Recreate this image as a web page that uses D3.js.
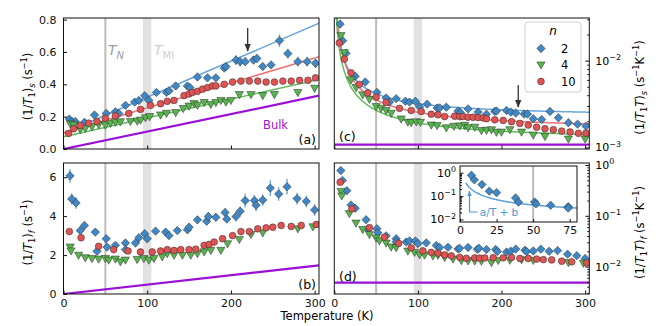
<!DOCTYPE html>
<html><head><meta charset="utf-8">
<script src="https://cdn.jsdelivr.net/npm/d3@7"></script>
<style>body{margin:0;background:#fff} svg{display:block}</style>
</head><body>
<script>
// ---------------- DATA ----------------
// slow component (1/T1)_s  [s^-1], panel (a)
const blueA_T = [7,10,14,25,37,51,62,66,74,85,90,97,102,111,123,126,134,148,151,160,172,182,192,194,206,211,217,227,231,238,248,258,268,280,291,301];
const blueA_v = [0.185,0.17,0.17,0.165,0.21,0.22,0.23,0.22,0.27,0.29,0.30,0.33,0.30,0.35,0.35,0.36,0.39,0.39,0.38,0.445,0.44,0.44,0.50,0.51,0.55,0.54,0.54,0.55,0.56,0.51,0.52,0.67,0.59,0.54,0.54,0.53];
const blueA_e = [0.02,0.02,0.02,0.015,0.015,0.015,0.015,0.015,0.02,0.015,0.015,0.02,0.02,0.015,0.015,0.02,0.02,0.02,0.02,0.02,0.02,0.02,0.02,0.02,0.03,0.03,0.025,0.025,0.025,0.02,0.02,0.04,0.03,0.03,0.03,0.03];
const redA_T = [6,12,20,30,40,50,62,78,92,104,116,124,132,144,150,154,160,166,172,178,182,192,202,212,222,232,242,252,262,272,282,292,301];
const redA_v = [0.096,0.125,0.145,0.16,0.17,0.19,0.205,0.22,0.245,0.27,0.28,0.295,0.30,0.33,0.34,0.35,0.357,0.37,0.38,0.39,0.39,0.40,0.414,0.42,0.42,0.42,0.414,0.414,0.42,0.42,0.425,0.425,0.44];
const greenA_T = [8,12,20,26,34,42,50,56,62,68,80,88,92,98,103,116,123,134,143,150,156,160,168,176,182,188,194,200,210,224,238,252,280,300];
const greenA_v = [0.155,0.148,0.12,0.127,0.137,0.15,0.148,0.158,0.165,0.168,0.17,0.172,0.178,0.193,0.2,0.21,0.22,0.225,0.25,0.265,0.28,0.27,0.287,0.275,0.287,0.30,0.29,0.30,0.336,0.336,0.33,0.336,0.349,0.375];
const redA_err = 0.008, greenA_err = 0.01;

// fast component (1/T1)_f [s^-1], panel (b)
const blueB_T = [7.8,9.8,15,20,25,38,40,51,52,62,74,74,86,90,97,100,110,122,126,136,148,150,160,171,173,182,193,195,206,211,217,228,230,238,247,257,267,279,290,300];
const blueB_v = [6.07,4.88,4.68,3.26,3.52,3.18,2.2,2.84,2.41,2.5,2.62,2.28,2.62,2.89,3.1,2.84,3.23,3.18,3.0,3.26,3.3,3.43,3.81,3.74,3.98,3.94,4.19,3.85,3.98,4.25,4.8,4.8,4.56,4.83,5.44,5.14,5.51,4.9,4.76,4.32];
const blueB_e = [0.35,0.3,0.3,0.2,0.2,0.15,0.15,0.15,0.15,0.15,0.15,0.15,0.15,0.15,0.2,0.2,0.15,0.15,0.15,0.15,0.2,0.2,0.2,0.2,0.25,0.2,0.2,0.2,0.25,0.25,0.35,0.3,0.3,0.3,0.4,0.35,0.4,0.3,0.3,0.3];
const redB_T = [7,21,42,60,77,92,106,116,124,132,140,150,158,168,174,180,190,202,212,222,232,242,250,260,272,284,302];
const redB_v = [3.21,2.89,2.45,2.28,2.21,2.16,2.16,2.21,2.28,2.24,2.28,2.28,2.3,2.5,2.55,2.67,2.84,3.0,3.21,3.21,3.35,3.4,3.43,3.52,3.47,3.52,3.57];
const greenB_T = [8,9,18,26,34,42,50,54,62,68,74,88,96,102,108,118,124,132,142,152,160,168,176,188,196,210,224,238,280,298];
const greenB_v = [2.41,2.21,1.99,1.86,1.82,1.79,1.82,1.74,1.79,1.65,1.74,1.77,1.82,1.74,1.82,1.91,2.07,1.99,1.99,1.99,2.07,2.16,2.24,2.24,2.58,2.8,3.05,3.14,3.35,3.45];
const redB_err = 0.08, greenB_err = 0.1;

// linear fits 1/T1 = a + b*T  (shown as a/T + b in panel c)
const fitNames = ['2','4','10'];
const fitA = [0.097, 0.076, 0.10];
const fitB = [0.00223, 0.00116, 0.00154];
// inset fit a/T + b for n = 2, fast component
const insetFitA = 1.43, insetFitB = 0.013;
// bulk relaxation rates (1/T1T) [s^-1 K^-1]
const bulkS = 0.00108, bulkF = 0.00482;
const T_N = 50, T_MI = [95, 105];
const arrowT = 220;

const legendLabels = ['2','4','10'];
const ticksA = [0,0.2,0.4,0.6,0.8];
const ticksB = [0,2,4,6];
const ticksX = [0,100,200,300];
const ticksInsetX = [0,25,50,75];

// ---------------- SETUP ----------------
const W=664,H=326;
const FONT='DejaVu Sans, sans-serif';
const svg=d3.select('body').append('svg').attr('width',W).attr('height',H).attr('font-family',FONT);

const P = {
  a:{x0:63.5,x1:319,y0:18,y1:149},
  b:{x0:63.5,x1:319,y0:163,y1:294},
  c:{x0:334.3,x1:589.3,y0:18,y1:149},
  d:{x0:334.3,x1:589.3,y0:163,y1:294},
  i:{x0:460,x1:577,y0:166,y1:222}
};
const xL = d3.scaleLinear().domain([0,305.2]).range([P.a.x0,P.a.x1]);
const xR = d3.scaleLinear().domain([0,305]).range([P.c.x0,P.c.x1]);
const ya = d3.scaleLinear().domain([0,0.81]).range([P.a.y1,P.a.y0]);
const yb = d3.scaleLinear().domain([0,6.73]).range([P.b.y1,P.b.y0]);
const yc = d3.scaleLog().domain([9.6e-4,3.1e-2]).range([P.c.y1,P.c.y0]);
const yd = d3.scaleLog().domain([Math.pow(10,-2.54),Math.pow(10,0.04)]).range([P.d.y1,P.d.y0]);
const xi = d3.scaleLinear().domain([0,80]).range([P.i.x0,P.i.x1]);
const yi = d3.scaleLog().domain([Math.pow(10,-2.11),Math.pow(10,0.29)]).range([P.i.y1,P.i.y0]);

const S = [
  {color:'#3f88c5', err:'#74aedf', fit:'#6aa6da', shape:'diamond'},
  {color:'#58b44f', err:'#8ad184', fit:'#62bd5c', shape:'tri'},
  {color:'#df5353', err:'#f08c8c', fit:'#ef7373', shape:'circle'}
];
const PURPLE = '#9b0fd6';

function markerPath(shape){
  if(shape==='diamond') return 'M0,-4.2L4.2,0L0,4.2L-4.2,0Z';
  if(shape==='tri') return 'M-4.1,-3.1L4.1,-3.1L0,4.1Z';
  return d3.symbol(d3.symbolCircle, 36)();
}

function richText(sel, parts, size){
  const t = sel.append('text').attr('font-size', size);
  let shift = 0;
  parts.forEach(p=>{
    const target = p.sub ? 0.28*size : (p.sup ? -0.42*size : 0);
    const ts = t.append('tspan').text(p.t);
    if(target!==shift){ ts.attr('dy', target-shift); shift=target; }
    if(p.sub||p.sup) ts.attr('font-size', size*0.72);
    if(p.it) ts.attr('font-style','italic');
  });
  return t;
}

const defs = svg.append('defs');
function clip(id, b){
  defs.append('clipPath').attr('id',id).append('rect')
    .attr('x',b.x0).attr('y',b.y0).attr('width',b.x1-b.x0).attr('height',b.y1-b.y0);
  return svg.append('g').attr('clip-path',`url(#${id})`);
}
defs.append('marker').attr('id','ah').attr('viewBox','0 0 10 10').attr('refX',9).attr('refY',5)
  .attr('markerWidth',6).attr('markerHeight',6).attr('orient','auto-start-reverse')
  .append('path').attr('d','M0,1L10,5L0,9Z').attr('fill','#333');
defs.append('marker').attr('id','ahb').attr('viewBox','0 0 10 10').attr('refX',9).attr('refY',5)
  .attr('markerWidth',5).attr('markerHeight',5).attr('orient','auto-start-reverse')
  .append('path').attr('d','M0,1L10,5L0,9Z').attr('fill','#4f95d0');

function transitions(g, xs, b){
  g.append('rect').attr('x',xs(T_MI[0])).attr('y',b.y0).attr('width',xs(T_MI[1])-xs(T_MI[0])).attr('height',b.y1-b.y0).attr('fill','#e2e2e2');
  g.append('line').attr('x1',xs(T_N)).attr('x2',xs(T_N)).attr('y1',b.y0).attr('y2',b.y1).attr('stroke','#bdbdbd').attr('stroke-width',2);
}

function drawSeries(g, xs, ys, sets){
  sets.forEach(s=>{
    const st = S[s.k];
    s.T.forEach((t,i)=>{
      const v=s.v[i], e=s.e[i];
      if(e>0) g.append('line').attr('x1',xs(t)).attr('x2',xs(t)).attr('y1',ys(v-e)).attr('y2',ys(v+e))
        .attr('stroke',st.err).attr('stroke-width',1.5);
    });
  });
  sets.forEach(s=>{
    const st = S[s.k];
    g.append('g').selectAll('path').data(s.T.map((t,i)=>[t,s.v[i]])).join('path')
      .attr('d',markerPath(st.shape))
      .attr('transform',d=>`translate(${xs(d[0])},${ys(d[1])})`)
      .attr('fill',st.color).attr('stroke','#2a2a2a').attr('stroke-width',0.5);
  });
}

function frame(b){
  svg.append('rect').attr('x',b.x0).attr('y',b.y0).attr('width',b.x1-b.x0).attr('height',b.y1-b.y0)
    .attr('fill','none').attr('stroke','#111').attr('stroke-width',1);
}
function styleAxis(g){ g.select('.domain').remove(); g.attr('font-family',FONT).attr('font-size',11);
  g.selectAll('line').attr('stroke','#111'); g.selectAll('text').attr('fill','#111'); }

const errs = (arr,e)=>arr.map(()=>e);

// ---------- series sets ----------
const setA = [
  {k:0,T:blueA_T,v:blueA_v,e:blueA_e},
  {k:1,T:greenA_T,v:greenA_v,e:errs(greenA_T,greenA_err)},
  {k:2,T:redA_T,v:redA_v,e:errs(redA_T,redA_err)}
];
const setB = [
  {k:0,T:blueB_T,v:blueB_v,e:blueB_e},
  {k:1,T:greenB_T,v:greenB_v,e:errs(greenB_T,greenB_err)},
  {k:2,T:redB_T,v:redB_v,e:errs(redB_T,redB_err)}
];
const perT = set => set.map(s=>({k:s.k,T:s.T,v:s.v.map((v,i)=>v/s.T[i]),e:s.e.map((e,i)=>e/s.T[i])}));
const setC = perT(setA), setD = perT(setB);

// ---------- Panel a ----------
{
  const g = clip('ca',P.a);
  transitions(g,xL,P.a);
  g.append('line').attr('x1',xL(0)).attr('x2',xL(305.2)).attr('y1',ya(0)).attr('y2',ya(bulkS*305.2))
    .attr('stroke',PURPLE).attr('stroke-width',2.2);
  [0,2,1].forEach(k=>{
    g.append('line').attr('x1',xL(0)).attr('x2',xL(305.2)).attr('y1',ya(fitA[k])).attr('y2',ya(fitA[k]+fitB[k]*305.2))
      .attr('stroke',S[k].fit).attr('stroke-width',1.5);
  });
  drawSeries(g,xL,ya,setA);
  frame(P.a);
  const ax = svg.append('g').attr('transform',`translate(${P.a.x0},0)`)
    .call(d3.axisLeft(ya).tickValues(ticksA).tickSize(-3.5).tickSizeOuter(0).tickPadding(7).tickFormat(d3.format('.1f')));
  styleAxis(ax);
  const bx = svg.append('g').attr('transform',`translate(0,${P.a.y1})`)
    .call(d3.axisBottom(xL).tickValues(ticksX).tickSize(-3.5).tickSizeOuter(0).tickFormat(''));
  styleAxis(bx);
  svg.append('text').attr('x',316).attr('y',144).attr('text-anchor','end').attr('font-size',12.5).text('(a)');
  svg.append('text').attr('x',263).attr('y',129).attr('font-size',11.5).attr('fill',PURPLE).text('Bulk');
  richText(svg,[{t:'T',it:true},{t:'N',sub:true,it:true}],14).attr('x',108).attr('y',55).attr('fill','#9d9d9d');
  richText(svg,[{t:'T',it:true},{t:'MI',sub:true}],14).attr('x',154).attr('y',55).attr('fill','#cfcfcf');
  svg.append('line').attr('x1',xL(arrowT)).attr('x2',xL(arrowT)).attr('y1',28).attr('y2',51)
    .attr('stroke','#333').attr('stroke-width',1.3).attr('marker-end','url(#ah)');
  richText(svg,[{t:'(1/'},{t:'T',it:true},{t:'1',sub:true},{t:')'},{t:'s',sub:true,it:true},{t:' (s'},{t:'−1',sup:true},{t:')'}],11.5)
    .attr('text-anchor','middle').attr('transform',`translate(32,${(P.a.y0+P.a.y1)/2+3}) rotate(-90)`);
}

// ---------- Panel b ----------
{
  const g = clip('cb',P.b);
  transitions(g,xL,P.b);
  g.append('line').attr('x1',xL(0)).attr('x2',xL(305.2)).attr('y1',yb(0)).attr('y2',yb(bulkF*305.2))
    .attr('stroke',PURPLE).attr('stroke-width',2.2);
  drawSeries(g,xL,yb,setB);
  frame(P.b);
  const ax = svg.append('g').attr('transform',`translate(${P.b.x0},0)`)
    .call(d3.axisLeft(yb).tickValues(ticksB).tickSize(-3.5).tickSizeOuter(0).tickPadding(7).tickFormat(d3.format('d')));
  styleAxis(ax);
  const bx = svg.append('g').attr('transform',`translate(0,${P.b.y1})`)
    .call(d3.axisBottom(xL).tickValues(ticksX).tickSize(-3.5).tickSizeOuter(0).tickPadding(5).tickFormat(d3.format('d')));
  styleAxis(bx);
  svg.append('text').attr('x',316).attr('y',289).attr('text-anchor','end').attr('font-size',12.5).text('(b)');
  richText(svg,[{t:'(1/'},{t:'T',it:true},{t:'1',sub:true},{t:')'},{t:'f',sub:true,it:true},{t:' (s'},{t:'−1',sup:true},{t:')'}],11.5)
    .attr('text-anchor','middle').attr('transform',`translate(32,${(P.b.y0+P.b.y1)/2+4}) rotate(-90)`);
}

// ---------- Panel c ----------
function logRightAxis(ys, b, majors, minors, labels){
  const ax = svg.append('g').attr('transform',`translate(${b.x1},0)`)
    .call(d3.axisRight(ys).tickValues(majors).tickSize(-4).tickSizeOuter(0).tickFormat(''));
  styleAxis(ax);
  const mx = svg.append('g').attr('transform',`translate(${b.x1},0)`)
    .call(d3.axisRight(ys).tickValues(minors).tickSize(-2).tickSizeOuter(0).tickFormat(''));
  styleAxis(mx);
  majors.forEach((m,i)=>{
    richText(svg,[{t:'10'},{t:labels[i],sup:true}],11).attr('x',b.x1+6).attr('y',ys(m)+4);
  });
}
{
  const g = clip('cc',P.c);
  transitions(g,xR,P.c);
  g.append('line').attr('x1',xR(0)).attr('x2',xR(305)).attr('y1',yc(bulkS)).attr('y2',yc(bulkS))
    .attr('stroke',PURPLE).attr('stroke-width',2.2);
  const Ts = d3.range(1.5,305.5,0.5);
  [0,2,1].forEach(k=>{
    g.append('path').attr('d',d3.line().x(t=>xR(t)).y(t=>yc((fitA[k]+fitB[k]*t)/t))(Ts))
      .attr('fill','none').attr('stroke',S[k].fit).attr('stroke-width',1.5);
  });
  drawSeries(g,xR,yc,setC);
  frame(P.c);
  const bx = svg.append('g').attr('transform',`translate(0,${P.c.y1})`)
    .call(d3.axisBottom(xR).tickValues(ticksX).tickSize(-3.5).tickSizeOuter(0).tickFormat(''));
  styleAxis(bx);
  logRightAxis(yc,P.c,[1e-3,1e-2],[2e-3,3e-3,4e-3,5e-3,6e-3,7e-3,8e-3,9e-3,2e-2,3e-2],['−3','−2']);
  svg.append('text').attr('x',339).attr('y',141).attr('font-size',12.5).text('(c)');
  svg.append('line').attr('x1',xR(arrowT)).attr('x2',xR(arrowT)).attr('y1',85).attr('y2',107)
    .attr('stroke','#333').attr('stroke-width',1.3).attr('marker-end','url(#ah)');
  richText(svg,[{t:'(1/'},{t:'T',it:true},{t:'1',sub:true},{t:'T',it:true},{t:')'},{t:'s',sub:true,it:true},{t:' (s'},{t:'−1',sup:true},{t:'K'},{t:'−1',sup:true},{t:')'}],11.5)
    .attr('text-anchor','middle').attr('transform',`translate(644,${(P.c.y0+P.c.y1)/2+4}) rotate(-90)`);
  const lg = svg.append('g');
  lg.append('rect').attr('x',525).attr('y',22).attr('width',56).attr('height',70).attr('rx',3)
    .attr('fill','#fff').attr('fill-opacity',0.85).attr('stroke','#d0d0d0');
  lg.append('text').attr('x',553).attr('y',35).attr('text-anchor','middle').attr('font-size',12).attr('font-style','italic').text('n');
  legendLabels.forEach((l,i)=>{
    const yy = 48.5 + i*16.5;
    lg.append('path').attr('d',markerPath(S[i].shape)).attr('transform',`translate(541,${yy})`)
      .attr('fill',S[i].color).attr('stroke','#2a2a2a').attr('stroke-width',0.5);
    lg.append('text').attr('x',561).attr('y',yy+4).attr('font-size',11.5).text(l);
  });
}

// ---------- Panel d ----------
{
  const g = clip('cd',P.d);
  transitions(g,xR,P.d);
  g.append('line').attr('x1',xR(0)).attr('x2',xR(305)).attr('y1',yd(bulkF)).attr('y2',yd(bulkF))
    .attr('stroke',PURPLE).attr('stroke-width',2.2);
  drawSeries(g,xR,yd,setD);
  frame(P.d);
  const bx = svg.append('g').attr('transform',`translate(0,${P.d.y1})`)
    .call(d3.axisBottom(xR).tickValues(ticksX).tickSize(-3.5).tickSizeOuter(0).tickPadding(5).tickFormat(d3.format('d')));
  styleAxis(bx);
  const minD=[];
  [1e-3,1e-2,1e-1].forEach(d=>{for(let m=2;m<10;m++){const v=m*d; if(v>yd.domain()[0]&&v<yd.domain()[1]) minD.push(v);}});
  logRightAxis(yd,P.d,[1e-2,1e-1,1],minD,['−2','−1','0']);
  svg.append('text').attr('x',339).attr('y',281).attr('font-size',12.5).text('(d)');
  richText(svg,[{t:'(1/'},{t:'T',it:true},{t:'1',sub:true},{t:'T',it:true},{t:')'},{t:'f',sub:true,it:true},{t:' (s'},{t:'−1',sup:true},{t:'K'},{t:'−1',sup:true},{t:')'}],11.5)
    .attr('text-anchor','middle').attr('transform',`translate(644,${(P.d.y0+P.d.y1)/2+4}) rotate(-90)`);

  // inset
  svg.append('rect').attr('x',P.i.x0).attr('y',P.i.y0).attr('width',P.i.x1-P.i.x0).attr('height',P.i.y1-P.i.y0).attr('fill','#fff');
  const gi = clip('ci',P.i);
  gi.append('line').attr('x1',xi(T_N)).attr('x2',xi(T_N)).attr('y1',P.i.y0).attr('y2',P.i.y1).attr('stroke','#bdbdbd').attr('stroke-width',2);
  const Ti = d3.range(4,80.5,0.5);
  gi.append('path').attr('d',d3.line().x(t=>xi(t)).y(t=>yi(insetFitA/t+insetFitB))(Ti))
    .attr('fill','none').attr('stroke','#5d9fd8').attr('stroke-width',1.5);
  const bl = setD[0];
  const idx = bl.T.map((t,i)=>i).filter(i=>bl.T[i]<80);
  drawSeries(gi,xi,yi,[{k:0,T:idx.map(i=>bl.T[i]),v:idx.map(i=>bl.v[i]),e:idx.map(i=>bl.e[i])}]);
  frame(P.i);
  const ia = svg.append('g').attr('transform',`translate(${P.i.x0},0)`)
    .call(d3.axisLeft(yi).tickValues([1e-2,1e-1,1]).tickSize(-3.5).tickSizeOuter(0).tickFormat(''));
  styleAxis(ia);
  const minI=[]; [1e-2,1e-1,1].forEach(d=>{for(let m=2;m<10;m++){const v=m*d; if(v<yi.domain()[1]) minI.push(v);}});
  const ib = svg.append('g').attr('transform',`translate(${P.i.x0},0)`)
    .call(d3.axisLeft(yi).tickValues(minI).tickSize(-2).tickSizeOuter(0).tickFormat(''));
  styleAxis(ib);
  [[1e-2,'−2'],[1e-1,'−1'],[1,'0']].forEach(([v,l])=>{
    richText(svg,[{t:'10'},{t:l,sup:true}],11).attr('x',P.i.x0-4).attr('y',yi(v)+4).attr('text-anchor','end');
  });
  const ix = svg.append('g').attr('transform',`translate(0,${P.i.y1})`)
    .call(d3.axisBottom(xi).tickValues(ticksInsetX).tickSize(-3).tickSizeOuter(0).tickPadding(4).tickFormat(d3.format('d')));
  styleAxis(ix);
  // annotation "a/T + b" with L-shaped arrow
  const annY = 212, annTop = 191;
  svg.append('path').attr('d',`M${xi(12)},${annY}L${xi(6.5)},${annY}L${xi(6.5)},${annTop}`)
    .attr('fill','none').attr('stroke','#4f95d0').attr('stroke-width',1.2).attr('marker-end','url(#ahb)');
  svg.append('text').attr('x',xi(13.5)).attr('y',annY+4).attr('font-size',10.5).attr('fill','#4f95d0').text('a/T + b');
}

svg.append('text').attr('x',327).attr('y',320).attr('text-anchor','middle').attr('font-size',11.5).text('Temperature (K)');
</script>
</body></html>
